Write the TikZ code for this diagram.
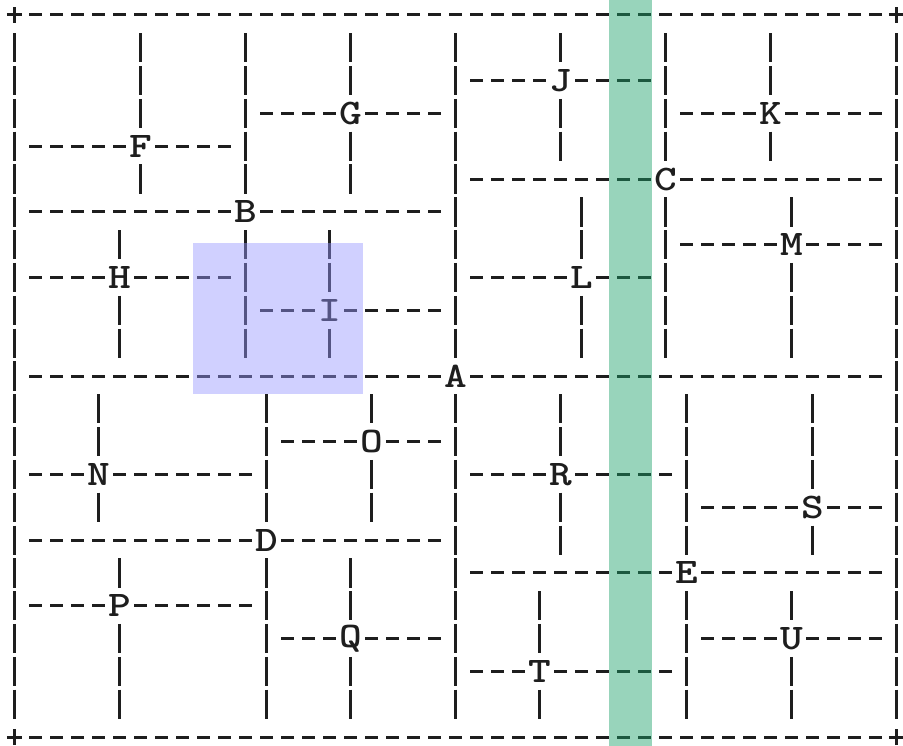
\documentclass[tikz,border=0pt]{standalone}
\usepackage{fontspec}
\usetikzlibrary{calc}
\newfontfamily\asciifont[FakeStretch=1.2]{lmmonolt10-bold.otf}
\definecolor{ink}{RGB}{30,30,30}
\definecolor{hlblue}{RGB}{150,150,255}
\definecolor{hlgreen}{RGB}{27,160,104}
\newcommand\asciiH[3]{\draw[hd] (#1-0.3,#3) -- (#2+0.3,#3);}
\newcommand\asciiV[3]{\draw[vd] (#1,#2-0.445) -- (#1,#3+0.445);}
\newcommand\asciiPlus[2]{\coordinate (#1) at (#2); \draw[plusline] ($(#1)+(-7.5pt,0)$) -- ($(#1)+(7.5pt,0)$) ($(#1)+(0,-8pt)$) -- ($(#1)+(0,8pt)$);}
\begin{document}
\begin{tikzpicture}[x={(21pt,0)},y={(0,-32.82pt)},
  hd/.style={draw=ink,line width=3pt,dash pattern=on 12.6pt off 8.4pt},
  vd/.style={draw=ink,line width=3pt,dash pattern=on 29.2pt off 3.62pt},
  plusline/.style={draw=ink,line width=3pt},
  lbl/.style={inner sep=0pt,text=ink,font=\asciifont\fontsize{36}{36}\selectfont},
  hlbox/.style={fill=hlblue,fill opacity=0.45,draw=none},
  hlband/.style={fill=hlgreen,fill opacity=0.45,draw=none}]
\useasboundingbox (-0.690,-0.457) rectangle (42.31,22.273);
% frame
\asciiPlus{c00}{0,0}
\asciiPlus{c10}{42,0}
\asciiPlus{c01}{0,22}
\asciiPlus{c11}{42,22}
\asciiH{1}{41}{0}
\asciiH{1}{41}{22}
\asciiV{0}{1}{21}
\asciiV{42}{1}{21}
% letters
\node[lbl] (A) at (21,11) {A};
\node[lbl] (B) at (11,6) {B};
\node[lbl] (C) at (31,5) {C};
\node[lbl] (D) at (12,16) {D};
\node[lbl] (E) at (32,17) {E};
\node[lbl] (F) at (6,4) {F};
\node[lbl] (G) at (16,3) {G};
\node[lbl] (H) at (5,8) {H};
\node[lbl] (I) at (15,9) {I};
\node[lbl] (J) at (26,2) {J};
\node[lbl] (K) at (36,3) {K};
\node[lbl] (L) at (27,8) {L};
\node[lbl] (M) at (37,7) {M};
\node[lbl] (N) at (4,14) {N};
\node[lbl] (O) at (17,13) {O};
\node[lbl] (P) at (5,18) {P};
\node[lbl] (Q) at (16,19) {Q};
\node[lbl] (R) at (26,14) {R};
\node[lbl] (S) at (38,15) {S};
\node[lbl] (T) at (25,20) {T};
\node[lbl] (U) at (37,19) {U};
% A
\asciiH{1}{20}{11} \asciiH{22}{41}{11} \asciiV{21}{1}{10} \asciiV{21}{12}{21}
% B
\asciiH{1}{10}{6} \asciiH{12}{20}{6} \asciiV{11}{1}{5} \asciiV{11}{7}{10}
% F
\asciiH{1}{5}{4} \asciiH{7}{10}{4} \asciiV{6}{1}{3} \asciiV{6}{5}{5}
% G
\asciiH{12}{15}{3} \asciiH{17}{20}{3} \asciiV{16}{1}{2} \asciiV{16}{4}{5}
% H
\asciiH{1}{4}{8} \asciiH{6}{10}{8} \asciiV{5}{7}{7} \asciiV{5}{9}{10}
% I
\asciiH{12}{14}{9} \asciiH{16}{20}{9} \asciiV{15}{7}{8} \asciiV{15}{10}{10}
% C
\asciiH{22}{30}{5} \asciiH{32}{41}{5} \asciiV{31}{1}{4} \asciiV{31}{6}{10}
% J
\asciiH{22}{25}{2} \asciiH{27}{30}{2} \asciiV{26}{1}{1} \asciiV{26}{3}{4}
% K
\asciiH{32}{35}{3} \asciiH{37}{41}{3} \asciiV{36}{1}{2} \asciiV{36}{4}{4}
% L
\asciiH{22}{26}{8} \asciiH{28}{30}{8} \asciiV{27}{6}{7} \asciiV{27}{9}{10}
% M
\asciiH{32}{36}{7} \asciiH{38}{41}{7} \asciiV{37}{6}{6} \asciiV{37}{8}{10}
% D
\asciiH{1}{11}{16} \asciiH{13}{20}{16} \asciiV{12}{12}{15} \asciiV{12}{17}{21}
% N
\asciiH{1}{3}{14} \asciiH{5}{11}{14} \asciiV{4}{12}{13} \asciiV{4}{15}{15}
% O
\asciiH{13}{16}{13} \asciiH{18}{20}{13} \asciiV{17}{12}{12} \asciiV{17}{14}{15}
% P
\asciiH{1}{4}{18} \asciiH{6}{11}{18} \asciiV{5}{17}{17} \asciiV{5}{19}{21}
% Q
\asciiH{13}{15}{19} \asciiH{17}{20}{19} \asciiV{16}{17}{18} \asciiV{16}{20}{21}
% E
\asciiH{22}{31}{17} \asciiH{33}{41}{17} \asciiV{32}{12}{16} \asciiV{32}{18}{21}
% R
\asciiH{22}{25}{14} \asciiH{27}{31}{14} \asciiV{26}{12}{13} \asciiV{26}{15}{16}
% S
\asciiH{33}{37}{15} \asciiH{39}{41}{15} \asciiV{38}{12}{14} \asciiV{38}{16}{16}
% T
\asciiH{22}{24}{20} \asciiH{26}{31}{20} \asciiV{25}{18}{19} \asciiV{25}{21}{21}
% U
\asciiH{33}{36}{19} \asciiH{38}{41}{19} \asciiV{37}{18}{18} \asciiV{37}{20}{21}
% highlights
\path[hlbox] (8.5,6.95) rectangle (16.6,11.55);
\path[hlband] (28.3,-0.457) rectangle (30.36,22.273);
\end{tikzpicture}
\end{document}
